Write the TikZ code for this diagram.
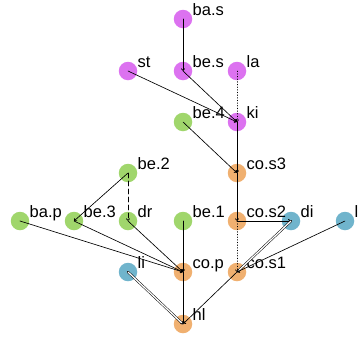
\documentclass[tikz,border=0pt]{standalone}
\usepackage{fontspec}
\setmainfont{Liberation Sans}
\usetikzlibrary{arrows.meta}
\definecolor{TokViolet}{RGB}{220,114,240}
\definecolor{TokGreen}{RGB}{160,214,108}
\definecolor{TokOrange}{RGB}{240,176,112}
\definecolor{TokBlue}{RGB}{112,180,204}

\begin{document}
\begin{tikzpicture}[x=1pt,y=-1pt,line cap=round,
  tok/.style={circle,minimum size=18.5pt,inner sep=0pt,draw=none},
  lbl/.style={anchor=base west,xshift=9.5pt,yshift=3.5pt,inner sep=0pt,font=\fontsize{16.5}{19}\selectfont},
  dep/.style={line width=0.65pt,-{Straight Barb[length=2pt,width=3.5pt]}},
  dbl/.style={dep,double,double distance=1.3pt,line width=0.5pt}]
\useasboundingbox (0,0) rectangle (359,338);
% tokens
\node[tok,fill=TokViolet] (bas) at (183,19) {};
\node[tok,fill=TokViolet] (st) at (128,71) {};
\node[tok,fill=TokViolet] (bes) at (183,71) {};
\node[tok,fill=TokViolet] (la) at (237,71) {};
\node[tok,fill=TokGreen] (be4) at (183,122) {};
\node[tok,fill=TokViolet] (ki) at (237,122) {};
\node[tok,fill=TokGreen] (be2) at (128,173) {};
\node[tok,fill=TokOrange] (cos3) at (237,173) {};
\node[tok,fill=TokGreen] (bap) at (20,221) {};
\node[tok,fill=TokGreen] (be3) at (74,221) {};
\node[tok,fill=TokGreen] (dr) at (128,221) {};
\node[tok,fill=TokGreen] (be1) at (183,221) {};
\node[tok,fill=TokOrange] (cos2) at (237,221) {};
\node[tok,fill=TokBlue] (di) at (291,221) {};
\node[tok,fill=TokBlue] (l) at (345,221) {};
\node[tok,fill=TokBlue] (li) at (128,272) {};
\node[tok,fill=TokOrange] (cop) at (183,272) {};
\node[tok,fill=TokOrange] (cos1) at (237,272) {};
\node[tok,fill=TokOrange] (hl) at (183,324) {};
% labels
\foreach \n/\t in {bas/ba.s,st/st,bes/be.s,la/la,be4/be.4,ki/ki,be2/be.2,cos3/co.s3,
  bap/ba.p,be3/be.3,dr/dr,be1/be.1,cos2/co.s2,di/di,l/l,li/li,cop/co.p,cos1/co.s1,hl/hl}
  \node[lbl] (\n-lbl) at (\n) {\t};
% dependencies
\draw[dep] (bas.center) -- (bes.center);
\draw[dep] (bes.center) -- (ki.center);
\draw[dep] (st.center) -- (ki.center);
\draw[dep,dotted,line width=0.5pt] (la.center) -- (ki.center);
\draw[dep] (ki.center) -- (cos3.center);
\draw[dep] (be4.center) -- (cos3.center);
\draw[dep] (cos3.center) -- (cos2.center);
\draw[dep,line width=0.9pt] (cos2.center) -- (di.center);
\draw[dep,dotted,line width=0.5pt] (cos2.center) -- (cos1.center);
\draw[dbl] (di.center) -- (cos1.center);
\draw[dep] (l.center) -- (cos1.center);
\draw[dep] (cos1.center) -- (hl.center);
\draw[dep] (be2.center) -- (be3.center);
\draw[dep,dash pattern=on 5pt off 3pt] (be2.center) -- (dr.center);
\draw[dep] (bap.center) -- (cop.center);
\draw[dep] (be3.center) -- (cop.center);
\draw[dep] (dr.center) -- (cop.center);
\draw[dep] (be1.center) -- (cop.center);
\draw[dep] (cop.center) -- (hl.center);
\draw[dbl] (li.center) -- (hl.center);
\end{tikzpicture}
\end{document}
